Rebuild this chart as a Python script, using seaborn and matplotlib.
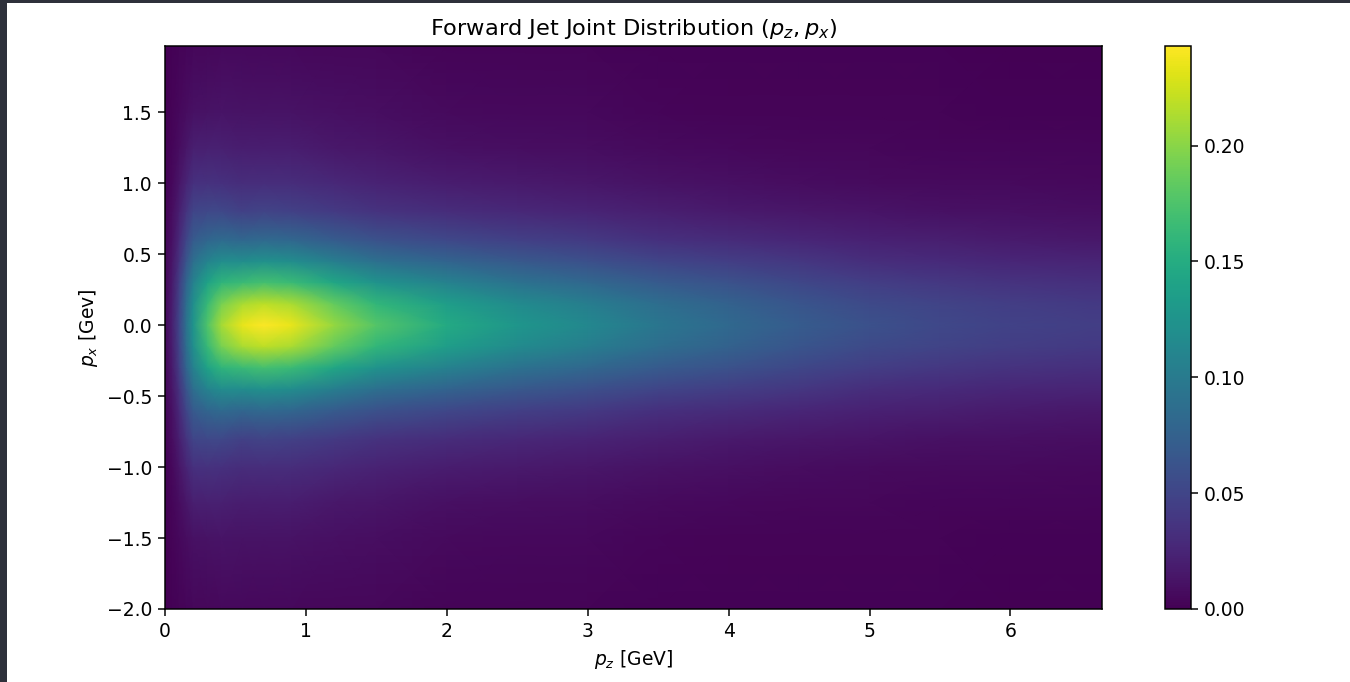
import numpy as np
import seaborn as sns
import matplotlib.pyplot as plt
from matplotlib.patches import Rectangle

# grid (GeV)
pz_values = [0.0, 0.05, 0.1, 0.15, 0.2, 0.3, 0.4, 0.55, 0.7, 0.9, 1.2,
             1.5, 2.0, 2.5, 3.0, 3.5, 4.0, 4.5, 5.0, 5.5, 6.0, 6.65]
px_values = [-2.0, -1.5, -1.25, -1.0, -0.8, -0.6, -0.45, -0.3, -0.15, 0.0,
             0.15, 0.3, 0.45, 0.6, 0.8, 1.0, 1.25, 1.5, 1.965]

# density, one row per px value (bottom to top), one column per pz value
density = [
    [0.000, 0.001, 0.002, 0.003, 0.004, 0.004, 0.005, 0.005, 0.005, 0.005, 0.004, 0.004, 0.002, 0.002, 0.002, 0.001, 0.001, 0.001, 0.001, 0.001, 0.000, 0.000],
    [0.000, 0.002, 0.005, 0.008, 0.011, 0.012, 0.013, 0.012, 0.012, 0.012, 0.010, 0.009, 0.006, 0.005, 0.005, 0.003, 0.002, 0.002, 0.002, 0.002, 0.001, 0.001],
    [0.001, 0.003, 0.008, 0.014, 0.020, 0.021, 0.021, 0.019, 0.019, 0.019, 0.016, 0.014, 0.010, 0.009, 0.008, 0.006, 0.005, 0.004, 0.004, 0.003, 0.003, 0.003],
    [0.001, 0.005, 0.014, 0.024, 0.034, 0.035, 0.034, 0.031, 0.032, 0.031, 0.027, 0.023, 0.019, 0.017, 0.015, 0.012, 0.010, 0.008, 0.007, 0.006, 0.006, 0.005],
    [0.002, 0.008, 0.020, 0.036, 0.050, 0.053, 0.053, 0.047, 0.049, 0.047, 0.041, 0.036, 0.031, 0.027, 0.024, 0.020, 0.017, 0.015, 0.013, 0.011, 0.010, 0.009],
    [0.003, 0.011, 0.028, 0.050, 0.069, 0.079, 0.084, 0.080, 0.083, 0.080, 0.070, 0.061, 0.053, 0.046, 0.041, 0.034, 0.030, 0.026, 0.022, 0.020, 0.018, 0.016],
    [0.004, 0.014, 0.035, 0.063, 0.088, 0.109, 0.118, 0.118, 0.122, 0.118, 0.103, 0.089, 0.077, 0.067, 0.059, 0.050, 0.044, 0.038, 0.032, 0.029, 0.026, 0.024],
    [0.004, 0.017, 0.043, 0.077, 0.106, 0.140, 0.158, 0.165, 0.170, 0.165, 0.144, 0.125, 0.107, 0.092, 0.081, 0.069, 0.061, 0.052, 0.044, 0.039, 0.036, 0.033],
    [0.005, 0.019, 0.048, 0.086, 0.119, 0.163, 0.193, 0.212, 0.219, 0.212, 0.185, 0.160, 0.135, 0.116, 0.103, 0.087, 0.075, 0.064, 0.055, 0.049, 0.044, 0.040],
    [0.005, 0.020, 0.050, 0.090, 0.125, 0.175, 0.210, 0.235, 0.243, 0.235, 0.205, 0.178, 0.148, 0.128, 0.113, 0.095, 0.082, 0.070, 0.060, 0.053, 0.048, 0.044],
    [0.005, 0.019, 0.048, 0.086, 0.119, 0.163, 0.193, 0.212, 0.219, 0.212, 0.185, 0.160, 0.135, 0.116, 0.103, 0.087, 0.075, 0.064, 0.055, 0.049, 0.044, 0.040],
    [0.004, 0.017, 0.043, 0.077, 0.106, 0.140, 0.158, 0.165, 0.170, 0.165, 0.144, 0.125, 0.107, 0.092, 0.081, 0.069, 0.061, 0.052, 0.044, 0.039, 0.036, 0.033],
    [0.004, 0.014, 0.035, 0.063, 0.088, 0.109, 0.118, 0.118, 0.122, 0.118, 0.103, 0.089, 0.077, 0.067, 0.059, 0.050, 0.044, 0.038, 0.032, 0.029, 0.026, 0.024],
    [0.003, 0.011, 0.028, 0.050, 0.069, 0.079, 0.084, 0.080, 0.083, 0.080, 0.070, 0.061, 0.053, 0.046, 0.041, 0.034, 0.030, 0.026, 0.022, 0.020, 0.018, 0.016],
    [0.002, 0.008, 0.020, 0.036, 0.050, 0.053, 0.053, 0.047, 0.049, 0.047, 0.041, 0.036, 0.031, 0.027, 0.024, 0.020, 0.017, 0.015, 0.013, 0.011, 0.010, 0.009],
    [0.001, 0.005, 0.014, 0.024, 0.034, 0.035, 0.034, 0.031, 0.032, 0.031, 0.027, 0.023, 0.019, 0.017, 0.015, 0.012, 0.010, 0.008, 0.007, 0.006, 0.006, 0.005],
    [0.001, 0.003, 0.008, 0.014, 0.020, 0.021, 0.021, 0.019, 0.019, 0.019, 0.016, 0.014, 0.010, 0.009, 0.008, 0.006, 0.005, 0.004, 0.004, 0.003, 0.003, 0.003],
    [0.000, 0.002, 0.005, 0.008, 0.011, 0.012, 0.013, 0.012, 0.012, 0.012, 0.010, 0.009, 0.006, 0.005, 0.005, 0.003, 0.002, 0.002, 0.002, 0.002, 0.001, 0.001],
    [0.000, 0.001, 0.002, 0.003, 0.004, 0.004, 0.005, 0.005, 0.005, 0.005, 0.004, 0.004, 0.002, 0.002, 0.002, 0.001, 0.001, 0.001, 0.001, 0.001, 0.000, 0.000],
]

sns.set_style("ticks")
# the reference was rendered at ~135 dpi, so scale text and lines by 1.35
plt.rcParams["font.family"] = ["DejaVu Sans"]
plt.rcParams["text.color"] = "black"
plt.rcParams["axes.labelcolor"] = "black"
plt.rcParams["axes.edgecolor"] = "black"
plt.rcParams["axes.linewidth"] = 1.08
plt.rcParams["xtick.color"] = "black"
plt.rcParams["ytick.color"] = "black"
plt.rcParams["xtick.major.width"] = 1.08
plt.rcParams["ytick.major.width"] = 1.08
plt.rcParams["xtick.major.size"] = 4.7
plt.rcParams["ytick.major.size"] = 4.7
plt.rcParams["xtick.major.pad"] = 4.7
plt.rcParams["ytick.major.pad"] = 4.7

fig = plt.figure(figsize=(13.5, 6.82), dpi=100)
fig.patch.set_facecolor("#2e313b")
# white notebook cell area inside the dark frame
fig.patches.append(Rectangle((7 / 1350, 0), 1, 1 - 3 / 682, transform=fig.transFigure,
                             facecolor="white", edgecolor="none", zorder=-10))

ax = fig.add_axes([165 / 1350, 73 / 682, 937 / 1350, 563 / 682])
cax = fig.add_axes([1165 / 1350, 73 / 682, 26 / 1350, 563 / 682])

cmap = sns.color_palette("viridis", as_cmap=True)
mesh = ax.pcolormesh(np.array(pz_values), np.array(px_values), np.array(density),
                     shading="gouraud", cmap=cmap, vmin=0.0, vmax=0.243)

ax.set_xlim(0, 6.65)
ax.set_ylim(-2.0, 1.965)
ax.set_xticks([0, 1, 2, 3, 4, 5, 6])
ax.set_yticks([-2.0, -1.5, -1.0, -0.5, 0.0, 0.5, 1.0, 1.5])
ax.set_title("Forward Jet Joint Distribution ($p_z, p_x$)", fontsize=16.2, pad=8)
ax.set_xlabel("$p_z$ [GeV]", fontsize=13.5, labelpad=5)
ax.set_ylabel("$p_x$ [Gev]", fontsize=13.5, labelpad=5)
ax.tick_params(labelsize=13.5)

cbar = fig.colorbar(mesh, cax=cax)
cbar.set_ticks([0.00, 0.05, 0.10, 0.15, 0.20])
cbar.ax.set_yticklabels(["0.00", "0.05", "0.10", "0.15", "0.20"])
cbar.ax.tick_params(labelsize=13.5)
cbar.outline.set_linewidth(1.08)

fig.savefig("out.png", dpi=100, facecolor=fig.get_facecolor())
